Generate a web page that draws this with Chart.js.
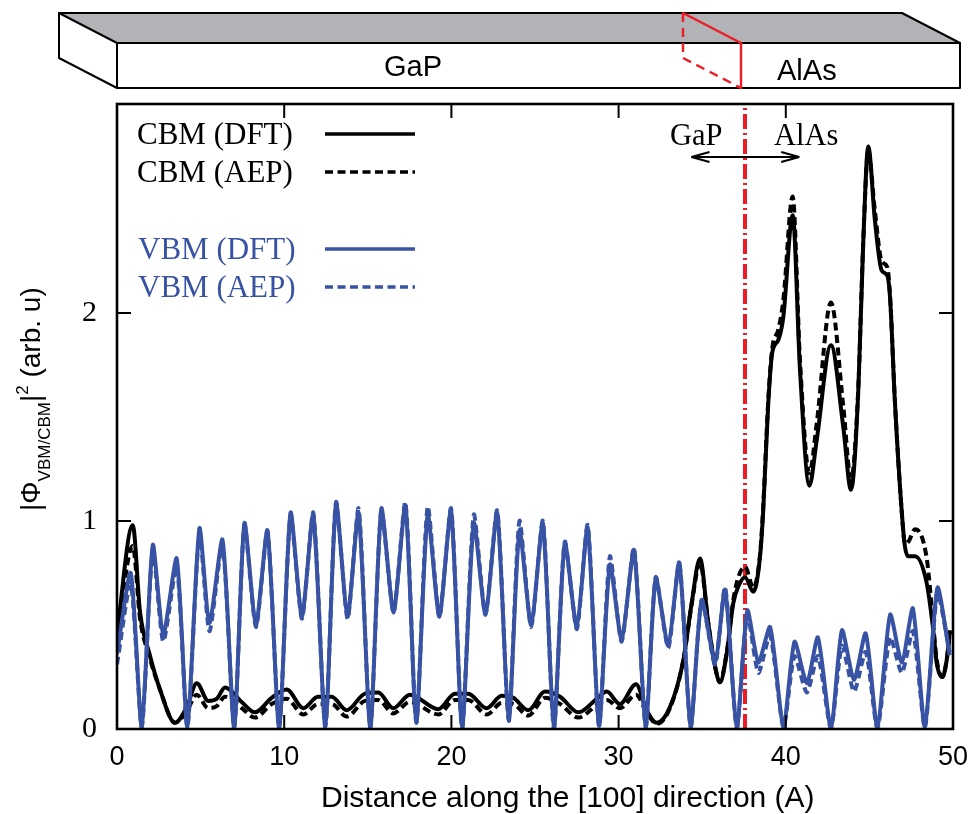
<!DOCTYPE html>
<html>
<head>
<meta charset="utf-8">
<title>CBM and VBM along [100]</title>
<script src="https://cdn.jsdelivr.net/npm/chart.js@4"></script>
<style>
  html, body { margin: 0; padding: 0; background: #fff; }
  canvas { display: block; }
</style>
</head>
<body>
<canvas id="wave-chart" width="972" height="814"></canvas>
<script>
var xTicks = [0, 10, 20, 30, 40, 50];
var yTicks = [0, 1, 2];

var vbmX = [0, 0.82, 1.48, 2.14, 2.77, 3.57, 4.21, 4.93, 5.53, 6.31, 7.01, 7.62, 8.31, 9.0, 9.7, 10.38, 11.06, 11.74, 12.46, 13.1,
  13.79, 14.45, 15.15, 15.81, 16.54, 17.25, 17.9, 18.58, 19.28, 19.98, 20.64, 21.34, 22.04, 22.74, 23.43, 24.07, 24.77, 25.47, 26.13, 26.78,
  27.5, 28.15, 28.83, 29.48, 30.18, 30.92, 31.62, 32.22, 32.97, 33.63, 34.31, 34.97, 35.77, 36.37, 37.07, 37.7, 38.36, 39.06, 39.86, 40.52,
  41.26, 41.92, 42.7, 43.36, 44.08, 44.78, 45.48, 46.24, 46.94, 47.6, 48.32, 49.07, 49.8];
var vbmDft = [0.36, 0.75, 0.01, 0.885, 0.455, 0.82, 0.01, 0.965, 0.51, 0.91, 0.005, 0.99, 0.5, 0.955, 0.005, 1.04, 0.54, 1.03, 0.01, 1.085,
  0.54, 1.04, 0.005, 1.06, 0.56, 1.075, 0.03, 1.03, 0.54, 1.05, 0.005, 0.99, 0.55, 1.04, 0.04, 0.955, 0.5, 0.99, 0.005, 0.895,
  0.49, 0.97, 0.015, 0.79, 0.43, 0.86, 0.01, 0.725, 0.4, 0.8, 0.01, 0.62, 0.32, 0.67, 0.005, 0.57, 0.32, 0.49, 0.01, 0.42,
  0.22, 0.44, 0.005, 0.475, 0.235, 0.46, 0.005, 0.55, 0.32, 0.58, 0.01, 0.68, 0.355];
var vbmAep = [0.31, 0.7, 0.01, 0.86, 0.42, 0.78, 0.01, 0.94, 0.47, 0.89, 0.005, 0.98, 0.49, 0.95, 0.005, 1.03, 0.53, 1.04, 0.01, 1.09,
  0.53, 1.06, 0.005, 1.05, 0.56, 1.09, 0.03, 1.07, 0.54, 1.06, 0.005, 1.03, 0.55, 1.05, 0.04, 1.0, 0.49, 1.0, 0.005, 0.9,
  0.48, 0.98, 0.015, 0.83, 0.42, 0.87, 0.01, 0.73, 0.39, 0.8, 0.01, 0.62, 0.31, 0.68, 0.005, 0.55, 0.27, 0.45, 0.01, 0.35,
  0.175, 0.35, 0.005, 0.4, 0.18, 0.37, 0.005, 0.44, 0.27, 0.47, 0.01, 0.65, 0.37];

var cbmX = [0, 0.94, 1.38, 1.93, 2.57, 3.47, 4.17, 4.77, 5.46, 5.96, 6.46, 7.46, 8.25, 9.25, 10.15, 11.14, 12.02, 12.84, 13.74, 14.83, 15.63,
  16.52, 17.52, 19.22, 20.21, 21.01, 22.11, 23.01, 23.7, 24.6, 25.6, 26.5, 27.59, 28.69, 29.29, 30.08, 31.04, 31.68, 32.28, 33.07, 33.87,
  34.37, 34.87, 35.36, 35.77, 36.06, 36.47, 36.86, 37.16, 37.56, 38.06, 38.46, 38.65, 38.95, 39.19, 39.55, 39.85, 40.41, 40.85, 41.41, 41.85,
  42.7, 43.44, 43.9, 44.33, 44.63, 44.93, 45.33, 45.73, 46.07, 46.23, 46.53, 46.93, 47.13, 47.33, 47.73, 48.43, 48.82, 49.03, 49.36, 49.62, 49.82];
var cbmDft = [0.46, 0.98, 0.56, 0.365, 0.19, 0.03, 0.105, 0.22, 0.135, 0.145, 0.2, 0.13, 0.08, 0.15, 0.19, 0.1, 0.155, 0.155, 0.09, 0.17, 0.175,
  0.1, 0.165, 0.095, 0.17, 0.17, 0.1, 0.16, 0.15, 0.09, 0.18, 0.155, 0.08, 0.145, 0.18, 0.12, 0.215, 0.09, 0.03, 0.105, 0.33,
  0.605, 0.82, 0.51, 0.3, 0.225, 0.365, 0.605, 0.685, 0.73, 0.66, 0.83, 1.05, 1.565, 1.81, 1.87, 1.98, 2.47, 1.725, 1.17, 1.39,
  1.845, 1.45, 1.15, 1.615, 2.335, 2.8, 2.445, 2.205, 2.18, 2.08, 1.565, 1.05, 0.875, 0.83, 0.83, 0.7, 0.475, 0.315, 0.25, 0.33, 0.475];
var cbmAep = [0.43, 0.88, 0.53, 0.35, 0.19, 0.03, 0.085, 0.165, 0.1, 0.11, 0.155, 0.1, 0.055, 0.12, 0.145, 0.07, 0.12, 0.12, 0.06, 0.135, 0.14,
  0.075, 0.13, 0.07, 0.14, 0.14, 0.07, 0.125, 0.12, 0.065, 0.15, 0.12, 0.055, 0.115, 0.14, 0.1, 0.165, 0.08, 0.025, 0.1, 0.33,
  0.6, 0.8, 0.51, 0.3, 0.225, 0.37, 0.62, 0.73, 0.78, 0.68, 0.84, 1.07, 1.58, 1.83, 1.92, 2.06, 2.56, 1.77, 1.23, 1.47,
  2.05, 1.55, 1.2, 1.63, 2.34, 2.78, 2.49, 2.25, 2.22, 2.09, 1.57, 1.05, 0.89, 0.9, 0.96, 0.82, 0.5, 0.33, 0.25, 0.33, 0.47];

var interfaceX = [37.56, 37.56];
var interfaceY = [0, 3];
var arrowX = [34.36, 40.8];
var arrowY = 2.75;

var legendLabels = ['CBM (DFT)', 'CBM (AEP)', 'VBM (DFT)', 'VBM (AEP)'];
var xTitle = 'Distance along the [100] direction (A)';

var black = '#000000';
var blue = '#3953a4';
var red = '#ed1c24';
var dash = [8, 4.5];

function toPoints(xs, ys) {
    var pts = [];
    for (var i = 0; i < xs.length; i++) {
        pts.push({ x: xs[i], y: ys[i] });
    }
    return pts;
}

function curve(label, xs, ys, color, dashed, order) {
    var ds = {
        label: label,
        data: toPoints(xs, ys),
        borderColor: color,
        borderWidth: 4,
        borderDash: dashed ? dash : [],
        pointRadius: 0,
        showLine: true,
        order: order
    };
    // blue peaks are pointier than the black ones
    if (color === blue) {
        ds.tension = 0.22;
    } else {
        ds.cubicInterpolationMode = 'monotone';
    }
    return ds;
}

function seg(ctx, x1, y1, x2, y2) {
    ctx.beginPath();
    ctx.moveTo(x1, y1);
    ctx.lineTo(x2, y2);
    ctx.stroke();
}

// the little 3D slab above the plot
function drawSlab(ctx) {
    ctx.save();
    ctx.lineCap = 'round';
    ctx.lineJoin = 'round';
    ctx.fillStyle = '#b1b3b6';
    ctx.beginPath();
    ctx.moveTo(59, 13);
    ctx.lineTo(902, 13);
    ctx.lineTo(960, 43);
    ctx.lineTo(117, 43);
    ctx.closePath();
    ctx.fill();
    ctx.strokeStyle = black;
    ctx.lineWidth = 2;
    ctx.stroke();
    ctx.beginPath();
    ctx.moveTo(59, 13);
    ctx.lineTo(59, 58);
    ctx.lineTo(117, 88);
    ctx.moveTo(117, 43);
    ctx.lineTo(117, 88);
    ctx.lineTo(960, 88);
    ctx.lineTo(960, 43);
    ctx.stroke();

    ctx.strokeStyle = red;
    ctx.lineWidth = 2.4;
    seg(ctx, 683, 13, 741, 43);
    seg(ctx, 741, 43, 741, 88);
    ctx.setLineDash([9, 6]);
    ctx.lineCap = 'butt';
    seg(ctx, 683, 13, 683, 58);
    seg(ctx, 683, 58, 741, 88);
    ctx.setLineDash([]);

    ctx.fillStyle = black;
    ctx.font = '29px "Liberation Sans"';
    ctx.fillText('GaP', 384, 76);
    ctx.fillText('AlAs', 777, 80);
    ctx.restore();
}

function drawLegend(ctx) {
    var rows = [
        { y: 134, base: 144, x: 137, color: black, dashed: false },
        { y: 172, base: 182, x: 137, color: black, dashed: true },
        { y: 249, base: 259, x: 138, color: blue, dashed: false },
        { y: 287, base: 297, x: 138, color: blue, dashed: true }
    ];
    ctx.save();
    ctx.font = '31px "Liberation Serif"';
    ctx.lineWidth = 3.4;
    for (var i = 0; i < rows.length; i++) {
        var r = rows[i];
        ctx.fillStyle = r.color;
        ctx.fillText(legendLabels[i], r.x, r.base);
        ctx.strokeStyle = r.color;
        ctx.setLineDash(r.dashed ? dash : []);
        seg(ctx, 325, r.y, 415, r.y);
    }
    ctx.restore();
}

function drawArrow(ctx, xs, ys) {
    var x1 = xs.getPixelForValue(arrowX[0]);
    var x2 = xs.getPixelForValue(arrowX[1]);
    var y = ys.getPixelForValue(arrowY);
    ctx.save();
    ctx.strokeStyle = black;
    ctx.lineWidth = 2.2;
    seg(ctx, x1, y, x2, y);
    seg(ctx, x1, y, x1 + 18, y - 5);
    seg(ctx, x1, y, x1 + 18, y + 5);
    seg(ctx, x2, y, x2 - 18, y - 5);
    seg(ctx, x2, y, x2 - 18, y + 5);
    ctx.fillStyle = black;
    ctx.font = '30.5px "Liberation Serif"';
    ctx.fillText('GaP', 670, 145);
    ctx.fillText('AlAs', 774, 145);
    ctx.restore();
}

// y title has sub and superscripts so it is put together by hand
function drawYTitle(ctx) {
    var runs = [
        { t: '|\u03A6', size: 28, off: 0 },
        { t: 'VBM/CBM', size: 17, off: 10 },
        { t: '|', size: 28, off: 0 },
        { t: '2', size: 17, off: -12 },
        { t: ' (arb. u)', size: 28, off: 0 }
    ];
    var pos = 0;
    ctx.save();
    ctx.translate(40, 511);
    ctx.rotate(-Math.PI / 2);
    ctx.fillStyle = black;
    for (var i = 0; i < runs.length; i++) {
        ctx.font = runs[i].size + 'px "Liberation Sans"';
        ctx.fillText(runs[i].t, pos, runs[i].off);
        pos += ctx.measureText(runs[i].t).width;
    }
    ctx.restore();
}

var decorPlugin = {
    id: 'decor',
    afterDraw: function (chart) {
        var ctx = chart.ctx;
        var a = chart.chartArea;
        var xs = chart.scales.x;
        var ys = chart.scales.y;
        var tick = 14;
        var i, p;

        ctx.save();
        ctx.strokeStyle = black;
        ctx.lineWidth = 2;
        for (i = 0; i < xTicks.length; i++) {
            p = xs.getPixelForValue(xTicks[i]);
            seg(ctx, p, a.bottom, p, a.bottom - tick);
            seg(ctx, p, 104, p, 104 + tick);
        }
        for (i = 0; i < yTicks.length; i++) {
            p = ys.getPixelForValue(yTicks[i]);
            seg(ctx, a.left, p, a.left + tick, p);
            seg(ctx, a.right, p, a.right - tick, p);
        }
        ctx.lineWidth = 2.6;
        ctx.strokeRect(a.left, 104, a.right - a.left, a.bottom - 104);
        ctx.restore();

        drawSlab(ctx);
        drawLegend(ctx);
        drawArrow(ctx, xs, ys);
        drawYTitle(ctx);

        ctx.save();
        ctx.fillStyle = black;
        ctx.font = '30px "Liberation Sans"';
        ctx.fillText(xTitle, 321, 807);
        ctx.restore();
    }
};

var ctx = document.getElementById('wave-chart');

var myChart = new Chart(ctx, {
    type: 'scatter',
    data: {
        datasets: [
            curve('VBM (DFT)', vbmX, vbmDft, blue, false, 1),
            curve('VBM (AEP)', vbmX, vbmAep, blue, true, 2),
            curve('CBM (DFT)', cbmX, cbmDft, black, false, 3),
            curve('CBM (AEP)', cbmX, cbmAep, black, true, 4),
            {
                label: 'Interface',
                data: toPoints(interfaceX, interfaceY),
                borderColor: red,
                borderWidth: 4,
                borderDash: [15, 4, 2, 4],
                pointRadius: 0,
                showLine: true,
                order: 5
            }
        ]
    },
    plugins: [decorPlugin],
    options: {
        responsive: false,
        animation: false,
        layout: { autoPadding: false, padding: { top: 105, right: 19, left: 0, bottom: 0 } },
        plugins: {
            legend: { display: false },
            title: { display: false },
            tooltip: { enabled: false }
        },
        scales: {
            x: {
                type: 'linear',
                min: 0,
                max: 50,
                afterFit: function (s) {
                    s.height = 85;
                    s.paddingLeft = 0;
                    s.paddingRight = 0;
                },
                afterBuildTicks: function (s) {
                    s.ticks = xTicks.map(function (v) { return { value: v }; });
                },
                grid: { display: false, drawTicks: false },
                border: { display: false },
                ticks: {
                    color: black,
                    padding: 12,
                    maxRotation: 0,
                    font: { family: 'Liberation Sans', size: 27 }
                }
            },
            y: {
                type: 'linear',
                min: 0,
                max: 3,
                afterFit: function (s) {
                    s.width = 117;
                    s.paddingTop = 0;
                    s.paddingBottom = 0;
                },
                afterBuildTicks: function (s) {
                    s.ticks = yTicks.map(function (v) { return { value: v }; });
                },
                grid: { display: false, drawTicks: false },
                border: { display: false },
                ticks: {
                    color: black,
                    padding: 20,
                    font: { family: 'Liberation Serif', size: 30 }
                }
            }
        }
    }
});
</script>
</body>
</html>
